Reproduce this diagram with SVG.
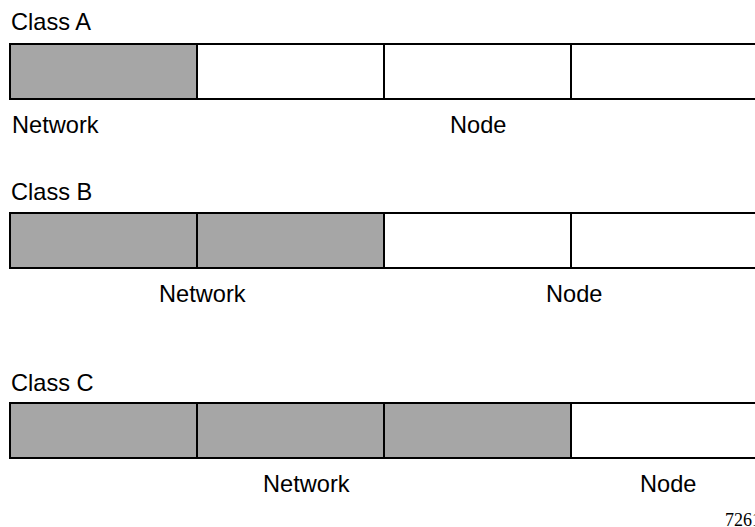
<svg xmlns="http://www.w3.org/2000/svg" width="755" height="527" viewBox="0 0 755 527">
<style>
.t{font-family:"Liberation Sans",Arial,sans-serif;font-size:23.6px;fill:#000}
.n{fill:#a6a6a6;stroke:#000;stroke-width:2}
.h{fill:#fff;stroke:#000;stroke-width:2}
.f{font-family:"Liberation Serif","Times New Roman",serif;font-size:18px;fill:#000}
</style>
<rect width="755" height="527" fill="#fff"/>
<g id="classA">
<text class="t" x="11" y="30">Class A</text>
<rect class="n" x="10" y="44" width="187" height="55"/>
<rect class="h" x="197" y="44" width="187" height="55"/>
<rect class="h" x="384" y="44" width="187" height="55"/>
<rect class="h" x="571" y="44" width="200" height="55"/>
<text class="t" x="12" y="133">Network</text>
<text class="t" x="450" y="133">Node</text>
</g>
<g id="classB">
<text class="t" x="11" y="200">Class B</text>
<rect class="n" x="10" y="213" width="187" height="55"/>
<rect class="n" x="197" y="213" width="187" height="55"/>
<rect class="h" x="384" y="213" width="187" height="55"/>
<rect class="h" x="571" y="213" width="200" height="55"/>
<text class="t" x="159" y="302">Network</text>
<text class="t" x="546" y="302">Node</text>
</g>
<g id="classC">
<text class="t" x="11" y="391">Class C</text>
<rect class="n" x="10" y="403" width="187" height="55"/>
<rect class="n" x="197" y="403" width="187" height="55"/>
<rect class="n" x="384" y="403" width="187" height="55"/>
<rect class="h" x="571" y="403" width="200" height="55"/>
<text class="t" x="263" y="492">Network</text>
<text class="t" x="640" y="492">Node</text>
</g>
<text class="f" x="725" y="526">7261</text>
</svg>
